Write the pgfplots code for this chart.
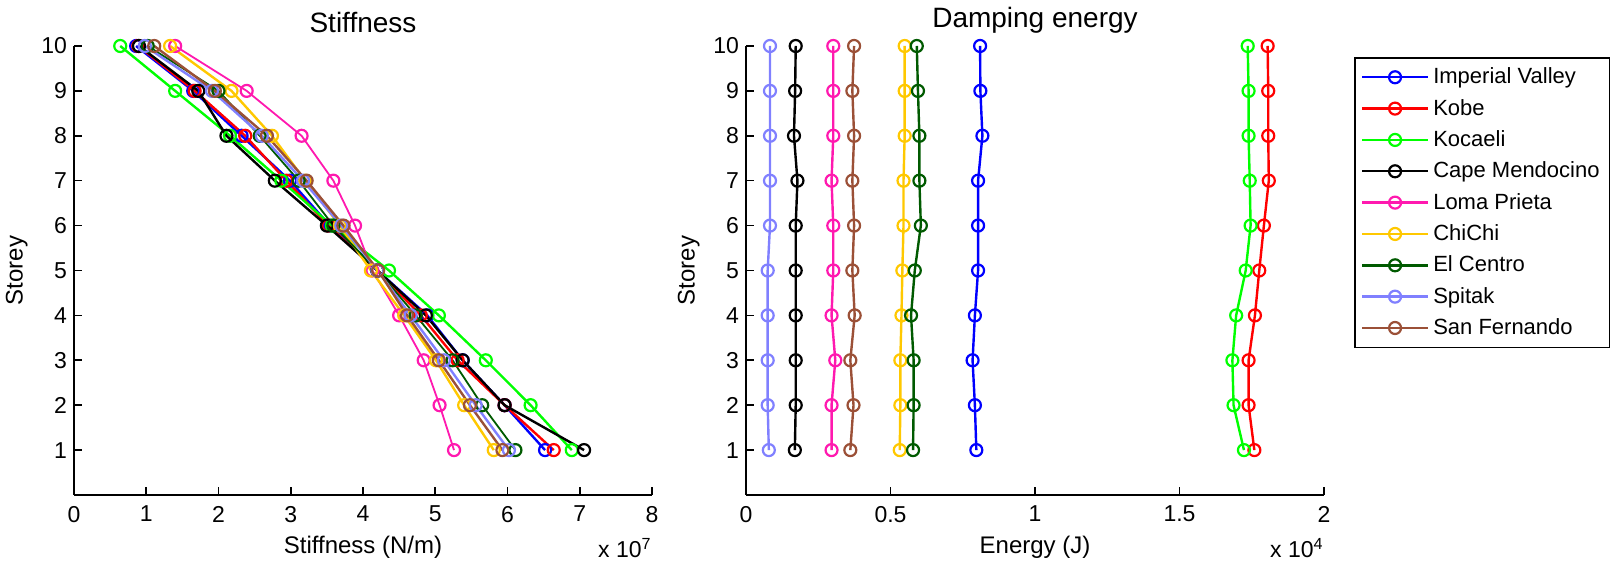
\documentclass[border=0pt]{standalone}
\usepackage{pgfplots}
\pgfplotsset{compat=1.18}
\usepackage{fontspec}
\setmainfont{Liberation Sans}

\definecolor{cIV}{RGB}{0,0,255}
\definecolor{cKobe}{RGB}{255,0,0}
\definecolor{cKoc}{RGB}{0,255,0}
\definecolor{cCape}{RGB}{0,0,0}
\definecolor{cLoma}{RGB}{255,25,175}
\definecolor{cChi}{RGB}{255,200,0}
\definecolor{cElC}{RGB}{0,90,0}
\definecolor{cSpi}{RGB}{128,128,255}
\definecolor{cSanF}{RGB}{155,80,55}

\pgfplotsset{
  matlab/.style={
    scale only axis,
    width=289pt, height=224.5pt,
    axis x line=bottom, axis y line=left,
    axis line style={-, line width=0.8pt},
    tick align=inside,
    major tick length=4pt,
    tick style={line width=0.8pt, black},
    ymin=0, ymax=10, ytick={1,...,10},
    /pgf/number format/assume math mode=true,
    ticklabel style={font=\fontsize{11.5}{13}\selectfont},
    xticklabel style={yshift=-2pt},
    label style={font=\fontsize{12}{14}\selectfont},
    title style={font=\fontsize{14}{16}\selectfont, yshift=-3pt},
    ylabel={Storey},
    every axis plot/.append style={line width=1.2pt, mark=o, mark size=3pt,
      mark options={solid, line width=1.1pt}},
  },
}

\begin{document}
\begin{tikzpicture}
\useasboundingbox (0,0) rectangle (811pt,283pt);

% ---- stiffness (x in units of 1e7 N/m)
\begin{axis}[matlab,
  at={(37pt,35.5pt)}, anchor=south west,
  xmin=0, xmax=8, xtick={0,...,8},
  xlabel={Stiffness (N/m)},
  title={Stiffness}]
\addplot[color=cIV] coordinates {(6.52,1)(5.96,2)(5.38,3)(4.89,4)(4.20,5)(3.54,6)(2.99,7)(2.32,8)(1.65,9)(0.86,10)};
\addplot[color=cKobe] coordinates {(6.64,1)(5.96,2)(5.31,3)(4.80,4)(4.20,5)(3.52,6)(2.94,7)(2.37,8)(1.67,9)(0.89,10)};
\addplot[color=cKoc] coordinates {(6.89,1)(6.32,2)(5.70,3)(5.05,4)(4.36,5)(3.57,6)(2.87,7)(2.16,8)(1.40,9)(0.64,10)};
\addplot[color=cCape] coordinates {(7.06,1)(5.96,2)(5.38,3)(4.87,4)(4.20,5)(3.50,6)(2.78,7)(2.11,8)(1.72,9)(0.90,10)};
\addplot[color=cLoma, line width=0.9pt] coordinates {(5.26,1)(5.06,2)(4.84,3)(4.50,4)(4.13,5)(3.89,6)(3.59,7)(3.15,8)(2.39,9)(1.40,10)};
\addplot[color=cChi] coordinates {(5.81,1)(5.40,2)(5.01,3)(4.57,4)(4.11,5)(3.68,6)(3.20,7)(2.74,8)(2.18,9)(1.33,10)};
\addplot[color=cElC, line width=0.9pt] coordinates {(6.11,1)(5.65,2)(5.24,3)(4.73,4)(4.20,5)(3.59,6)(3.11,7)(2.57,8)(2.00,9)(1.02,10)};
\addplot[color=cSpi] coordinates {(6.02,1)(5.56,2)(5.12,3)(4.66,4)(4.20,5)(3.70,6)(3.17,7)(2.60,8)(1.91,9)(0.98,10)};
\addplot[color=cSanF] coordinates {(5.93,1)(5.48,2)(5.05,3)(4.61,4)(4.21,5)(3.73,6)(3.22,7)(2.67,8)(1.95,9)(1.11,10)};
\end{axis}
\node[anchor=base east, font=\fontsize{11.5}{13}\selectfont, inner sep=0pt] at (326pt,4pt) {x 10\textsuperscript{7}};

% ---- damping energy (x in units of 1e4 J)
\begin{axis}[matlab,
  at={(373pt,35.5pt)}, anchor=south west,
  xmin=0, xmax=2, xtick={0,0.5,1,1.5,2},
  xlabel={Energy (J)},
  title={Damping energy},
  legend cell align=left,
  legend style={at={(axis description cs:1.052,0.9755)}, anchor=north west,
    draw=black, line width=0.8pt, font=\fontsize{11}{13}\selectfont,
    row sep=2.2pt, inner xsep=3pt, inner ysep=3pt},
  legend image code/.code={\draw[#1, mark repeat=2, mark phase=2] plot coordinates {(0pt,0pt)(16.5pt,0pt)(33pt,0pt)};},
  ]
\addplot[color=cIV] coordinates {(0.797,1)(0.792,2)(0.784,3)(0.792,4)(0.803,5)(0.803,6)(0.803,7)(0.818,8)(0.811,9)(0.810,10)};
\addlegendentry{Imperial Valley}
\addplot[color=cKobe] coordinates {(1.759,1)(1.739,2)(1.739,3)(1.761,4)(1.776,5)(1.792,6)(1.809,7)(1.807,8)(1.807,9)(1.805,10)};
\addlegendentry{Kobe}
\addplot[color=cKoc] coordinates {(1.723,1)(1.687,2)(1.683,3)(1.696,4)(1.729,5)(1.746,6)(1.743,7)(1.739,8)(1.739,9)(1.736,10)};
\addlegendentry{Kocaeli}
\addplot[color=cCape] coordinates {(0.169,1)(0.172,2)(0.172,3)(0.172,4)(0.172,5)(0.172,6)(0.178,7)(0.166,8)(0.170,9)(0.172,10)};
\addlegendentry{Cape Mendocino}
\addplot[color=cLoma] coordinates {(0.296,1)(0.296,2)(0.309,3)(0.296,4)(0.302,5)(0.302,6)(0.296,7)(0.302,8)(0.302,9)(0.302,10)};
\addlegendentry{Loma Prieta}
\addplot[color=cChi] coordinates {(0.532,1)(0.534,2)(0.534,3)(0.538,4)(0.541,5)(0.545,6)(0.545,7)(0.549,8)(0.549,9)(0.549,10)};
\addlegendentry{ChiChi}
\addplot[color=cElC] coordinates {(0.578,1)(0.580,2)(0.580,3)(0.571,4)(0.584,5)(0.605,6)(0.600,7)(0.600,8)(0.595,9)(0.591,10)};
\addlegendentry{El Centro}
\addplot[color=cSpi] coordinates {(0.079,1)(0.075,2)(0.075,3)(0.075,4)(0.075,5)(0.083,6)(0.083,7)(0.083,8)(0.083,9)(0.083,10)};
\addlegendentry{Spitak}
\addplot[color=cSanF] coordinates {(0.361,1)(0.372,2)(0.361,3)(0.376,4)(0.368,5)(0.374,6)(0.368,7)(0.374,8)(0.368,9)(0.374,10)};
\addlegendentry{San Fernando}
\end{axis}
\node[anchor=base east, font=\fontsize{11.5}{13}\selectfont, inner sep=0pt] at (662pt,4pt) {x 10\textsuperscript{4}};
\end{tikzpicture}
\end{document}
